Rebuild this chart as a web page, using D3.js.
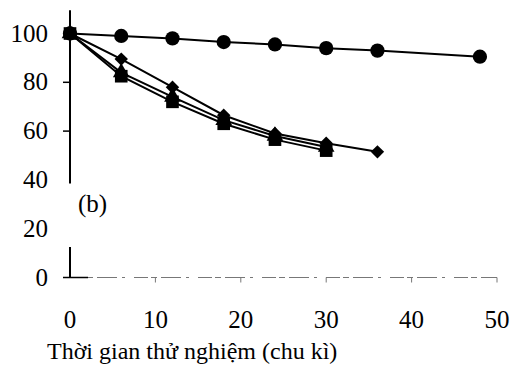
<!DOCTYPE html>
<html>
<head>
<meta charset="utf-8">
<script src="https://cdn.jsdelivr.net/npm/d3@7"></script>
<style>
  body { margin: 0; background: #fff; }
  svg { display: block; font-family: "Liberation Serif", "DejaVu Serif", serif; }
</style>
</head>
<body>
<div id="chart"></div>
<script>
// data
var cycles = [0, 6, 12, 18, 24, 30, 36, 48];
var circleVals = [100, 99, 98, 96.5, 95.5, 94, 93, 90.5];
var diamondVals = [100, 89.5, 78, 66.5, 59, 55, 51.5];
var triangleVals = [100, 84, 74, 64.5, 58, 53.5];
var squareVals = [100, 82.5, 72, 63, 56.5, 52];
var xTicks = [0, 10, 20, 30, 40, 50];
var yTicks = [0, 20, 40, 60, 80, 100];
var panelLabel = "(b)";
var xTitle = "Thời gian thử nghiệm (chu kì)";

var width = 515,
    height = 373;

var svg = d3.select("#chart")
    .append("svg")
    .attr("width", width)
    .attr("height", height);

var x = d3.scaleLinear().domain([0, 50]).range([70, 497]);
var y = d3.scaleLinear().domain([0, 100]).range([277.5, 33.5]);

// y axis is broken between 40 and 20
var ySegments = [[109.5, 38.5], [12.5, 0]];
ySegments.forEach(function (s) {
    svg.append("line")
        .attr("x1", x(0)).attr("x2", x(0))
        .attr("y1", y(s[0])).attr("y2", y(s[1]))
        .attr("stroke", "#000").attr("stroke-width", 2);
});

// y tick marks only where the axis is drawn
svg.selectAll(".ytick")
    .data(yTicks.filter((d) => d >= 60 || d === 0))
    .enter()
    .append("line")
    .attr("x1", x(0) - 7).attr("x2", x(0))
    .attr("y1", (d) => y(d)).attr("y2", (d) => y(d))
    .attr("stroke", "#000").attr("stroke-width", 1.5);

svg.selectAll(".ylab")
    .data(yTicks)
    .enter()
    .append("text")
    .attr("x", 48)
    .attr("y", (d) => y(d) + 8)
    .attr("text-anchor", "end")
    .attr("font-size", 25)
    .text((d) => d);

// faint scanned x axis
svg.append("line")
    .attr("x1", x(0)).attr("x2", x(50))
    .attr("y1", y(0)).attr("y2", y(0))
    .attr("stroke", "#777").attr("stroke-width", 1)
    .attr("stroke-dasharray", "14,3,6,4,20,5,3,9");

svg.append("line")
    .attr("x1", x(0)).attr("x2", x(0) + 18)
    .attr("y1", y(0)).attr("y2", y(0))
    .attr("stroke", "#000").attr("stroke-width", 1.5);

svg.selectAll(".xtick")
    .data(xTicks.slice(1))
    .enter()
    .append("line")
    .attr("x1", (d) => x(d)).attr("x2", (d) => x(d))
    .attr("y1", y(0)).attr("y2", y(0) + 5)
    .attr("stroke", "#777").attr("stroke-width", 1);

svg.selectAll(".xlab")
    .data(xTicks)
    .enter()
    .append("text")
    .attr("x", (d) => x(d))
    .attr("y", 328)
    .attr("text-anchor", "middle")
    .attr("font-size", 25)
    .text((d) => d);

svg.append("text")
    .attr("x", 47)
    .attr("y", 359)
    .attr("font-size", 24)
    .text(xTitle);

svg.append("text")
    .attr("x", 78)
    .attr("y", 212)
    .attr("font-size", 25)
    .text(panelLabel);

// series (diamond drawn as a square turned 45 degrees)
var series = [
    { vals: squareVals, shape: d3.symbolSquare, size: 160, rot: 0 },
    { vals: triangleVals, shape: d3.symbolTriangle, size: 120, rot: 0 },
    { vals: diamondVals, shape: d3.symbolSquare, size: 90, rot: 45 },
    { vals: circleVals, shape: d3.symbolCircle, size: 160, rot: 0 }
];

var line = d3.line()
    .x((d) => x(d[0]))
    .y((d) => y(d[1]));

series.forEach(function (s) {
    var pts = s.vals.map((v, i) => [cycles[i], v]);
    svg.append("path")
        .attr("d", line(pts))
        .attr("fill", "none")
        .attr("stroke", "#000")
        .attr("stroke-width", 2);
    svg.selectAll(null)
        .data(pts)
        .enter()
        .append("path")
        .attr("d", d3.symbol().type(s.shape).size(s.size))
        .attr("transform", (d) => `translate(${x(d[0])},${y(d[1])}) rotate(${s.rot})`)
        .attr("fill", "#000");
});
</script>
</body>
</html>
